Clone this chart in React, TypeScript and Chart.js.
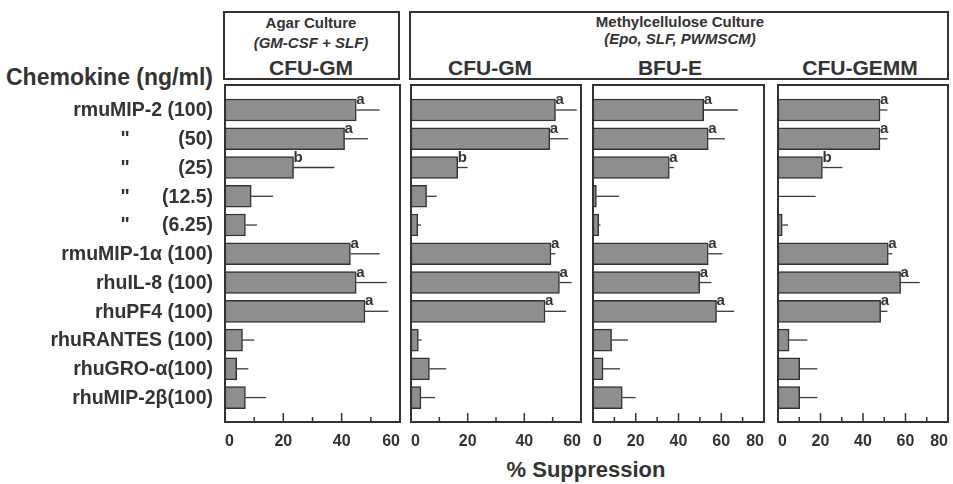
import { useEffect, useRef } from "react";
import { Chart, registerables } from "chart.js";

Chart.register(...registerables);

const FONT = '"Liberation Sans", Arial, Helvetica, sans-serif';
const INK = "#333333";

// ---- Data ----
const rowLabels = [
  "rmuMIP-2 (100)",
  "(50)",
  "(25)",
  "(12.5)",
  "(6.25)",
  "rmuMIP-1α (100)",
  "rhuIL-8 (100)",
  "rhuPF4 (100)",
  "rhuRANTES (100)",
  "rhuGRO-α(100)",
  "rhuMIP-2β(100)",
];
const dittoRows = [false, true, true, true, true, false, false, false, false, false, false];

// Agar culture CFU-GM
const agarGM = [45, 41, 23.5, 9, 7, 43, 45, 48, 6, 4, 7];
const agarGMErr = [8, 8, 14, 7.5, 4, 10, 10.5, 8, 4, 4, 7];
const agarGMSig = ["a", "a", "b", "", "", "a", "a", "a", "", "", ""];

// Methylcellulose culture CFU-GM
const methGM = [51, 49, 16.5, 5.5, 2.4, 49.4, 52.4, 47.3, 2.6, 6.5, 3.5];
const methGMErr = [7.5, 6.5, 3.5, 3.5, 1.1, 1.6, 4.3, 7.4, 1.2, 5.9, 5];
const methGMSig = ["a", "a", "b", "", "", "a", "a", "a", "", "", ""];

// Methylcellulose culture BFU-E
const bfuE = [51.8, 53.9, 35.7, 1.6, 2.7, 53.9, 49.9, 57.8, 8.7, 4.7, 13.7];
const bfuEErr = [15.9, 7.8, 2.1, 10.5, 0.8, 6.6, 5.5, 8.2, 7.7, 7.9, 6.3];
const bfuESig = ["a", "a", "a", "", "", "a", "a", "a", "", "", ""];

// Methylcellulose culture CFU-GEMM
const gemm = [48, 48, 20.9, 0, 2, 51.9, 57.7, 48.3, 5.2, 10.2, 10.2];
const gemmErr = [3.5, 3.5, 9.4, 17.7, 2.7, 1.9, 9, 3.2, 8.6, 8.3, 8.3];
const gemmSig = ["a", "a", "b", "", "", "a", "a", "a", "", "", ""];

const axisMax60 = 60;
const axisMax80 = 80;

type Panel = {
  id: string;
  boxLeft: number;
  boxRight: number;
  max: number;
  values: number[];
  errs: number[];
  sig: string[];
  withLabels: boolean;
};

const panels: Panel[] = [
  { id: "agar", boxLeft: 225, boxRight: 400, max: axisMax60, values: agarGM, errs: agarGMErr, sig: agarGMSig, withLabels: true },
  { id: "methgm", boxLeft: 411, boxRight: 581, max: axisMax60, values: methGM, errs: methGMErr, sig: methGMSig, withLabels: false },
  { id: "bfue", boxLeft: 593, boxRight: 764, max: axisMax80, values: bfuE, errs: bfuEErr, sig: bfuESig, withLabels: false },
  { id: "gemm", boxLeft: 778, boxRight: 948, max: axisMax80, values: gemm, errs: gemmErr, sig: gemmSig, withLabels: false },
];

const CANVAS_TOP = 80;
const CANVAS_H = 404;
const BOX_TOP = 85;
const BOX_BOTTOM = 422;

function makeDecor(p: Panel) {
  return {
    id: "decor_" + p.id,
    afterDatasetsDraw(chart: any) {
      const ctx = chart.ctx as CanvasRenderingContext2D;
      const xs = chart.scales.x;
      const ys = chart.scales.y;
      const meta = chart.getDatasetMeta(0);
      ctx.save();
      meta.data.forEach((el: any, i: number) => {
        const { x, y, height } = el.getProps(["x", "y", "height"], true);
        const end = xs.getPixelForValue(p.values[i] + p.errs[i]);
        ctx.strokeStyle = "#3a3a3a";
        ctx.lineWidth = 1.3;
        ctx.beginPath();
        ctx.moveTo(x, y);
        ctx.lineTo(end, y);
        ctx.stroke();
        if (p.sig[i]) {
          ctx.fillStyle = INK;
          ctx.font = `bold 15px ${FONT}`;
          ctx.textAlign = "left";
          ctx.textBaseline = "alphabetic";
          ctx.fillText(p.sig[i], x, y - height / 2 + 5);
        }
      });
      // box
      const a = chart.chartArea;
      ctx.strokeStyle = INK;
      ctx.lineWidth = 2;
      ctx.strokeRect(a.left, a.top, a.right - a.left, a.bottom - a.top);
      // inward tick marks
      ctx.lineWidth = 1.5;
      for (let v = 10; v < p.max; v += 10) {
        const px = xs.getPixelForValue(v);
        const len = v % 20 === 0 ? 9 : 5;
        ctx.beginPath();
        ctx.moveTo(px, a.bottom);
        ctx.lineTo(px, a.bottom - len);
        ctx.stroke();
      }
      // row labels
      if (p.withLabels) {
        ctx.fillStyle = INK;
        ctx.font = `bold 19.5px ${FONT}`;
        ctx.textBaseline = "middle";
        rowLabels.forEach((lab, i) => {
          const py = ys.getPixelForValue(i) + 1;
          ctx.textAlign = "right";
          ctx.fillText(lab, 213, py);
          if (dittoRows[i]) {
            ctx.textAlign = "center";
            ctx.fillText('"', 125, py);
          }
        });
      }
      ctx.restore();
    },
  };
}

function PanelChart({ p }: { p: Panel }) {
  const ref = useRef<HTMLCanvasElement>(null);
  const canvasLeft = p.withLabels ? 0 : p.boxLeft - 15;
  const padLeft = p.boxLeft - canvasLeft;
  const padRight = 15;
  const width = p.boxRight - canvasLeft + padRight;
  useEffect(() => {
    if (!ref.current) return;
    const chart = new Chart(ref.current, {
      type: "bar",
      data: {
        datasets: [
          {
            data: p.values.map((v, i) => ({ x: v, y: i })) as any,
            backgroundColor: "#8e8e8e",
            borderColor: "#333333",
            borderWidth: 1.5,
            borderSkipped: false,
            barThickness: 22,
          },
        ],
      },
      options: {
        indexAxis: "y",
        animation: false,
        responsive: false,
        events: [],
        layout: { padding: { left: padLeft, right: padRight, top: BOX_TOP - CANVAS_TOP, bottom: 32 } },
        plugins: { legend: { display: false }, tooltip: { enabled: false } },
        scales: {
          y: {
            type: "linear",
            min: -0.87,
            max: 10.85,
            reverse: true,
            offset: false,
            display: false,
            grid: { offset: false },
          },
          x: {
            type: "linear",
            min: 0,
            max: p.max,
            grid: { display: false, drawTicks: false },
            border: { display: false },
            ticks: {
              stepSize: 20,
              align: "inner",
              padding: 10,
              color: INK,
              font: { family: FONT, size: 16, weight: "bold" },
            },
            afterFit: (s: any) => {
              s.height = CANVAS_H - 32 - (BOX_BOTTOM - CANVAS_TOP);
            },
          },
        },
      },
      plugins: [makeDecor(p)],
    } as any);
    return () => chart.destroy();
  }, []);
  return (
    <canvas
      ref={ref}
      width={width}
      height={CANVAS_H}
      style={{ position: "absolute", left: canvasLeft, top: CANVAS_TOP, width, height: CANVAS_H }}
    />
  );
}

function Txt({ x, y, size, children, italic, align }: any) {
  const tx = align === "right" ? "-100%" : "-50%";
  return (
    <div
      style={{
        position: "absolute",
        left: x,
        top: y,
        transform: `translate(${tx}, -50%)`,
        fontFamily: FONT,
        fontWeight: "bold",
        fontStyle: italic ? "italic" : "normal",
        fontSize: size,
        lineHeight: 1,
        color: INK,
        whiteSpace: "nowrap",
      }}
    >
      {children}
    </div>
  );
}

export default function App() {
  return (
    <div style={{ position: "fixed", left: 0, top: 0, width: 953, height: 484, background: "#fff", overflow: "hidden" }}>
      <div style={{ position: "absolute", left: 223, top: 11, width: 177, height: 69, border: `2px solid ${INK}`, boxSizing: "border-box" }} />
      <div style={{ position: "absolute", left: 409, top: 11, width: 540, height: 69, border: `2px solid ${INK}`, boxSizing: "border-box" }} />
      <Txt x={311} y={22} size={15}>Agar Culture</Txt>
      <Txt x={311} y={42} size={15} italic>(GM-CSF + SLF)</Txt>
      <Txt x={311} y={67} size={21}>CFU-GM</Txt>
      <Txt x={680} y={21} size={15}>Methylcellulose Culture</Txt>
      <Txt x={680} y={38} size={15} italic>(Epo, SLF, PWMSCM)</Txt>
      <Txt x={490} y={67} size={21}>CFU-GM</Txt>
      <Txt x={670} y={67} size={21}>BFU-E</Txt>
      <Txt x={860} y={67} size={21}>CFU-GEMM</Txt>
      <Txt x={213} y={77} size={23} align="right">Chemokine (ng/ml)</Txt>
      <Txt x={586} y={470} size={22}>% Suppression</Txt>
      {panels.map((p) => (
        <PanelChart key={p.id} p={p} />
      ))}
    </div>
  );
}
